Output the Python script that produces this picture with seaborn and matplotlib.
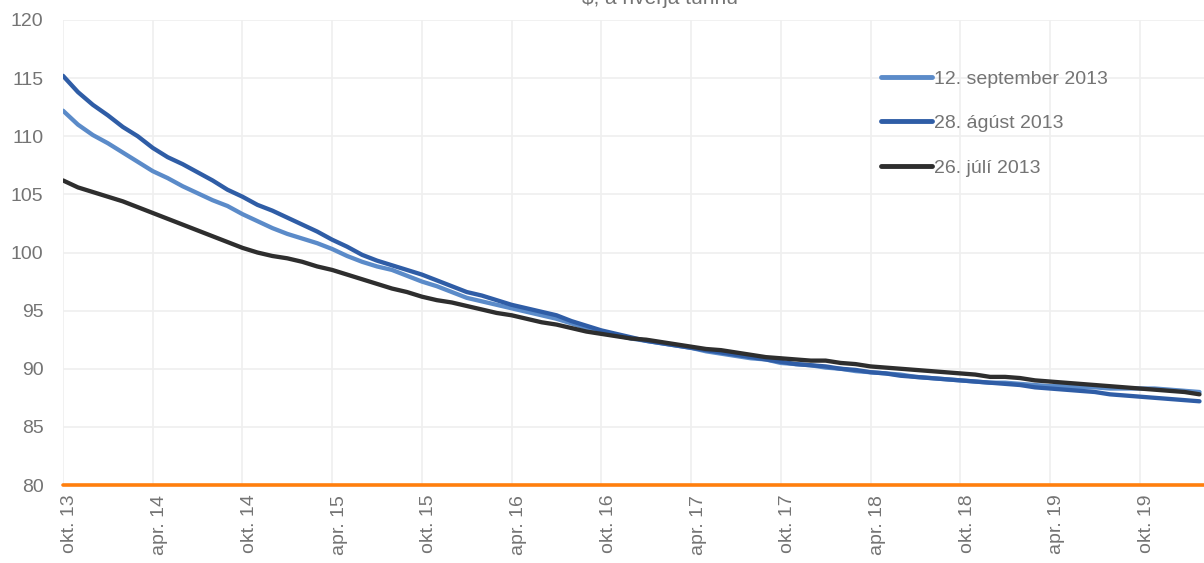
import numpy as np
import pandas as pd
import seaborn as sns
import matplotlib
matplotlib.use("Agg")
import matplotlib.pyplot as plt
from matplotlib.transforms import ScaledTranslation

# Monthly futures curve, Oct 2013 onward ($ per barrel)
sep_2013 = [112.2, 111.0, 110.1, 109.4, 108.6, 107.8, 107.0, 106.4, 105.7, 105.1,
            104.5, 104.0, 103.3, 102.7, 102.1, 101.6, 101.2, 100.8, 100.3, 99.7,
            99.2, 98.8, 98.5, 98.0, 97.5, 97.1, 96.6, 96.1, 95.8, 95.5,
            95.2, 94.9, 94.6, 94.3, 93.9, 93.5, 93.2, 92.9, 92.6, 92.4,
            92.2, 92.0, 91.8, 91.5, 91.3, 91.1, 90.9, 90.8, 90.5, 90.4,
            90.3, 90.1, 90.0, 89.8, 89.7, 89.6, 89.5, 89.3, 89.2, 89.1,
            89.0, 88.9, 88.8, 88.8, 88.7, 88.6, 88.5, 88.5, 88.4, 88.4,
            88.3, 88.3, 88.3, 88.3, 88.2, 88.1, 88.0]
aug_2013 = [115.2, 113.8, 112.7, 111.8, 110.8, 110.0, 109.0, 108.2, 107.6, 106.9,
            106.2, 105.4, 104.8, 104.1, 103.6, 103.0, 102.4, 101.8, 101.1, 100.5,
            99.8, 99.3, 98.9, 98.5, 98.1, 97.6, 97.1, 96.6, 96.3, 95.9,
            95.5, 95.2, 94.9, 94.6, 94.1, 93.7, 93.3, 93.0, 92.7, 92.4,
            92.2, 92.0, 91.8, 91.6, 91.4, 91.2, 91.0, 90.8, 90.6, 90.4,
            90.3, 90.2, 90.0, 89.9, 89.7, 89.6, 89.4, 89.3, 89.2, 89.1,
            89.0, 88.9, 88.8, 88.7, 88.6, 88.4, 88.3, 88.2, 88.1, 88.0,
            87.8, 87.7, 87.6, 87.5, 87.4, 87.3, 87.2]
jul_2013 = [106.2, 105.6, 105.2, 104.8, 104.4, 103.9, 103.4, 102.9, 102.4, 101.9,
            101.4, 100.9, 100.4, 100.0, 99.7, 99.5, 99.2, 98.8, 98.5, 98.1,
            97.7, 97.3, 96.9, 96.6, 96.2, 95.9, 95.7, 95.4, 95.1, 94.8,
            94.6, 94.3, 94.0, 93.8, 93.5, 93.2, 93.0, 92.8, 92.6, 92.5,
            92.3, 92.1, 91.9, 91.7, 91.6, 91.4, 91.2, 91.0, 90.9, 90.8,
            90.7, 90.7, 90.5, 90.4, 90.2, 90.1, 90.0, 89.9, 89.8, 89.7,
            89.6, 89.5, 89.3, 89.3, 89.2, 89.0, 88.9, 88.8, 88.7, 88.6,
            88.5, 88.4, 88.3, 88.2, 88.1, 88.0, 87.8]

series_names = ["12. september 2013", "28. ágúst 2013", "26. júlí 2013"]
series_colors = ["#5B8BC9", "#2F5DA6", "#2E2E2E"]
tick_labels = ["okt. 13", "apr. 14", "okt. 14", "apr. 15", "okt. 15", "apr. 16",
               "okt. 16", "apr. 17", "okt. 17", "apr. 18", "okt. 18", "apr. 19",
               "okt. 19"]
title_text = "$, á hverja tunnu"

n = len(sep_2013)
months = np.arange(n)
df = pd.concat([
    pd.DataFrame({"month": months, "price": vals, "series": name})
    for name, vals in zip(series_names, [sep_2013, aug_2013, jul_2013])
], ignore_index=True)

sns.set_theme(style="white")
plt.rcParams["font.family"] = ["Liberation Sans", "DejaVu Sans"]

text_grey = "#747474"

fig = plt.figure(figsize=(12.04, 5.63), dpi=100)
ax = fig.add_axes([63 / 1204, 1 - 485 / 563, 1 - 63 / 1204, (485 - 20) / 563])

sns.lineplot(data=df, x="month", y="price", hue="series",
             hue_order=series_names, palette=series_colors,
             linewidth=3.1, ax=ax, legend=True)

ax.set_xlim(0, 76.3)
ax.set_ylim(80, 120)
ax.set_yticks(np.arange(80, 121, 5))
ax.set_xticks(np.arange(0, 6 * len(tick_labels), 6))
ax.set_xticklabels(tick_labels, rotation=90, ha="center", va="top")
ax.grid(True, color="#EFEFEF", linewidth=1.2)
ax.set_axisbelow(True)
for s in ax.spines.values():
    s.set_visible(False)
ax.axhline(80, color="#FF7F0E", linewidth=2.6, zorder=1.5, clip_on=False)

ax.tick_params(axis="both", length=0, labelsize=14, labelcolor=text_grey)
ax.tick_params(axis="y", pad=14)
ax.tick_params(axis="x", pad=7)
offset = ScaledTranslation(7 / 100, 0, fig.dpi_scale_trans)
for lbl in ax.get_xticklabels():
    lbl.set_transform(lbl.get_transform() + offset)
ax.set_xlabel("")
ax.set_ylabel("")

leg = ax.legend(loc="upper left", bbox_to_anchor=(0.702, 0.93), frameon=False,
                fontsize=14, handlelength=2.6, handletextpad=0.1,
                labelspacing=1.38, labelcolor=text_grey)
for h in leg.get_lines():
    h.set_linewidth(3.5)

fig.text(660 / 1204, 1 - 4 / 563, title_text, ha="center", va="baseline",
         fontsize=15, color=text_grey)

fig.savefig("out.png", dpi=100)
